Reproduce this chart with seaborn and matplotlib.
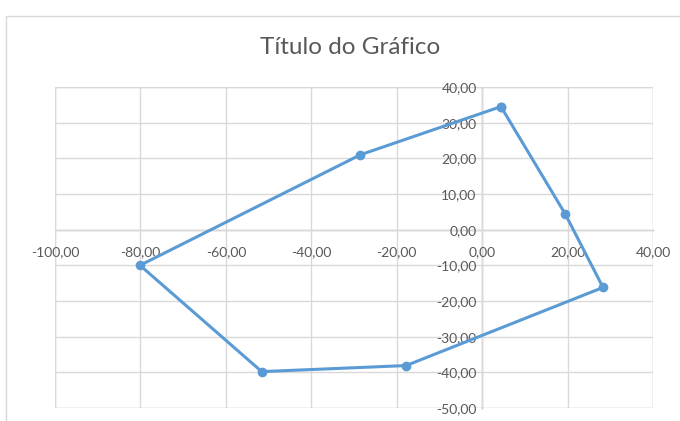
import matplotlib
matplotlib.use("Agg")
import matplotlib.pyplot as plt
from matplotlib.patches import Rectangle
from matplotlib.ticker import FuncFormatter, MultipleLocator
import pandas as pd
import seaborn as sns

# points in drawing order, closed back to the first one
x_vals = [4.4, 19.4, 28.3, -17.8, -51.6, -80.1, -28.5, 4.4]
y_vals = [34.5, 4.5, -16.2, -38.1, -39.8, -10.0, 21.0, 34.5]

title = "Título do Gráfico"
line_color = "#5B9BD5"
text_color = "#595959"
grid_color = "#D9D9D9"


def fmt(v, pos):
    return f"{v:.2f}".replace(".", ",")


def main():
    df = pd.DataFrame({"x": x_vals, "y": y_vals})

    sns.set_theme(style="white")
    plt.rcParams["font.family"] = ["Lato", "DejaVu Sans"]

    fig = plt.figure(figsize=(6.8, 4.21), dpi=100)
    fig.patches.append(Rectangle((6 / 680, -0.05), 1.0, 1.05 - 16 / 421,
                                 transform=fig.transFigure, fill=False,
                                 edgecolor=grid_color, linewidth=1.0))
    ax = fig.add_axes([55 / 680, 1 - 408 / 421, 598 / 680, 321 / 421])

    sns.lineplot(data=df, x="x", y="y", sort=False, estimator=None,
                 color=line_color, linewidth=2.2, marker="o", markersize=7,
                 markeredgewidth=0, ax=ax)

    ax.set_xlim(-100, 40)
    ax.set_ylim(-50, 40)
    ax.xaxis.set_major_locator(MultipleLocator(20))
    ax.yaxis.set_major_locator(MultipleLocator(10))
    ax.xaxis.set_major_formatter(FuncFormatter(fmt))
    ax.yaxis.set_major_formatter(FuncFormatter(fmt))

    ax.grid(True, color=grid_color, linewidth=1.0)
    ax.set_axisbelow(True)
    ax.spines["left"].set_position(("data", 0))
    ax.spines["bottom"].set_position(("data", 0))
    ax.spines["right"].set_visible(False)
    ax.spines["top"].set_visible(False)
    for s in ("left", "bottom"):
        ax.spines[s].set_color("#BFBFBF")
        ax.spines[s].set_linewidth(1.0)
        ax.spines[s].set_zorder(0.5)
    ax.tick_params(length=0, labelsize=10, colors=text_color)
    ax.tick_params(axis="x", pad=12)
    ax.tick_params(axis="y", pad=4)
    ax.set_xlabel("")
    ax.set_ylabel("")
    # outline of the plot area
    for x in (-100, 40):
        ax.axvline(x, color=grid_color, linewidth=1.0, zorder=0)
    for y in (-50, 40):
        ax.axhline(y, color=grid_color, linewidth=1.0, zorder=0)

    fig.text(350 / 680, 1 - 48 / 421, title, ha="center", va="center",
             fontsize=17.5, color=text_color)

    fig.savefig("out.png", dpi=100)


if __name__ == "__main__":
    main()
